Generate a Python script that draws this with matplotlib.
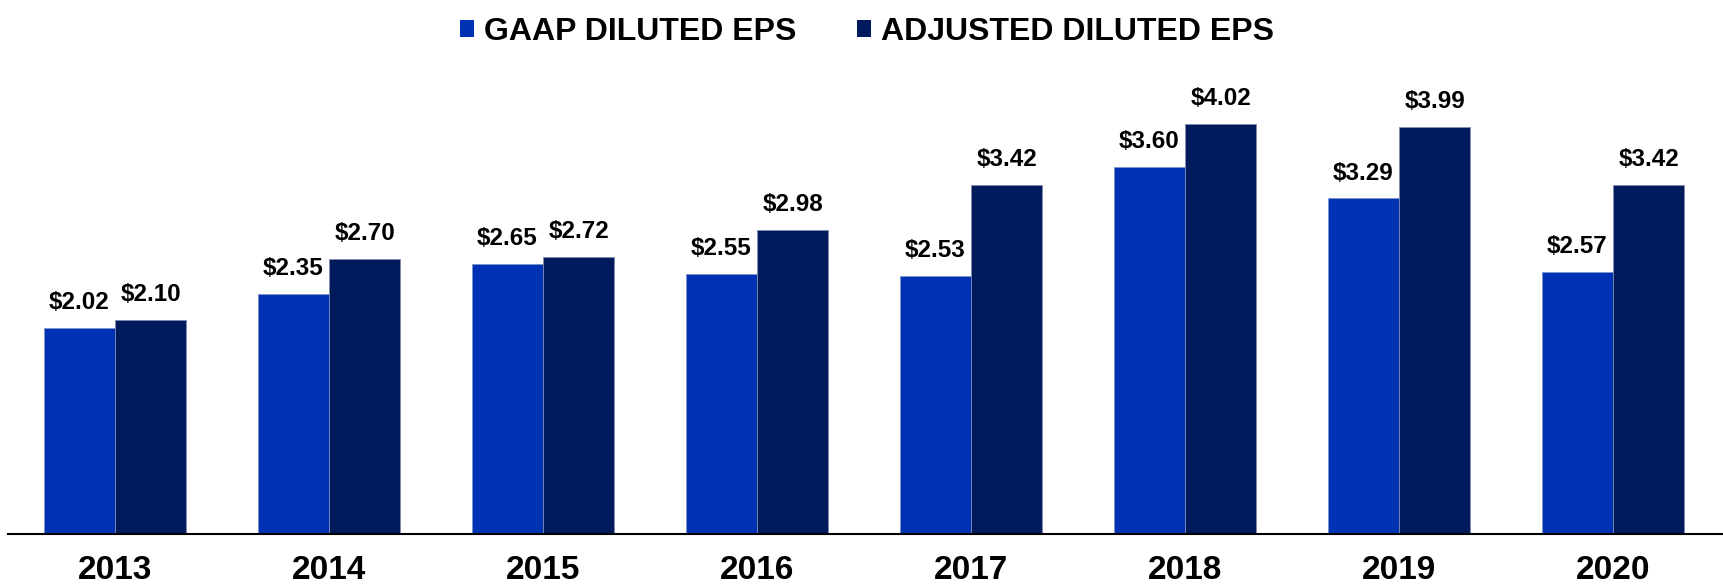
import numpy as np
import matplotlib
matplotlib.use('Agg')
from matplotlib import pyplot as plt
from matplotlib.patches import Patch

years = ['2013', '2014', '2015', '2016', '2017', '2018', '2019', '2020']
gaap_eps = [2.02, 2.35, 2.65, 2.55, 2.53, 3.60, 3.29, 2.57]
adjusted_eps = [2.10, 2.70, 2.72, 2.98, 3.42, 4.02, 3.99, 3.42]
series_names = ['GAAP DILUTED EPS', 'ADJUSTED DILUTED EPS']

gaap_color = '#0033b3'
adj_color = '#001a5c'

plt.rcParams['font.family'] = ['Liberation Sans', 'DejaVu Sans']
plt.rcParams['font.weight'] = 'bold'

fig = plt.figure(figsize=(17.23, 5.86), dpi=100)
ax = fig.add_axes([8 / 1723, 52 / 586, 1 - 8 / 1723, 474 / 586])

x = np.arange(len(years))
w = 0.333
b1 = ax.bar(x - w / 2, gaap_eps, w, color=gaap_color, edgecolor='#7f93c9', linewidth=0.6)
b2 = ax.bar(x + w / 2, adjusted_eps, w, color=adj_color, edgecolor='#7f8bb0', linewidth=0.6)

for bars, vals in [(b1, gaap_eps), (b2, adjusted_eps)]:
    for rect, v in zip(bars, vals):
        ax.annotate('${:.2f}'.format(v),
                    (rect.get_x() + rect.get_width() / 2, rect.get_height()),
                    xytext=(0, 10), textcoords='offset points',
                    ha='center', va='bottom', fontsize=17.5, fontweight='bold')

ax.set_xlim(-0.5, 7.514)
ax.set_ylim(0, 474 / 102)
ax.set_xticks(x)
ax.set_xticklabels(years, fontsize=24, fontweight='bold')
ax.tick_params(axis='x', length=0, pad=15)
ax.set_yticks([])
for s in ['top', 'right', 'left']:
    ax.spines[s].set_visible(False)
ax.spines['bottom'].set_linewidth(1.5)
ax.spines['bottom'].set_color('black')

handles = [Patch(facecolor=gaap_color), Patch(facecolor=adj_color)]
fig.legend(handles, series_names, loc='upper center', bbox_to_anchor=(0.503, 1.02),
           ncol=2, frameon=False, prop={'size': 23, 'weight': 'bold'},
           handlelength=0.45, handleheight=0.45, handletextpad=0.3,
           columnspacing=1.9)

plt.savefig('out.png', dpi=100)
